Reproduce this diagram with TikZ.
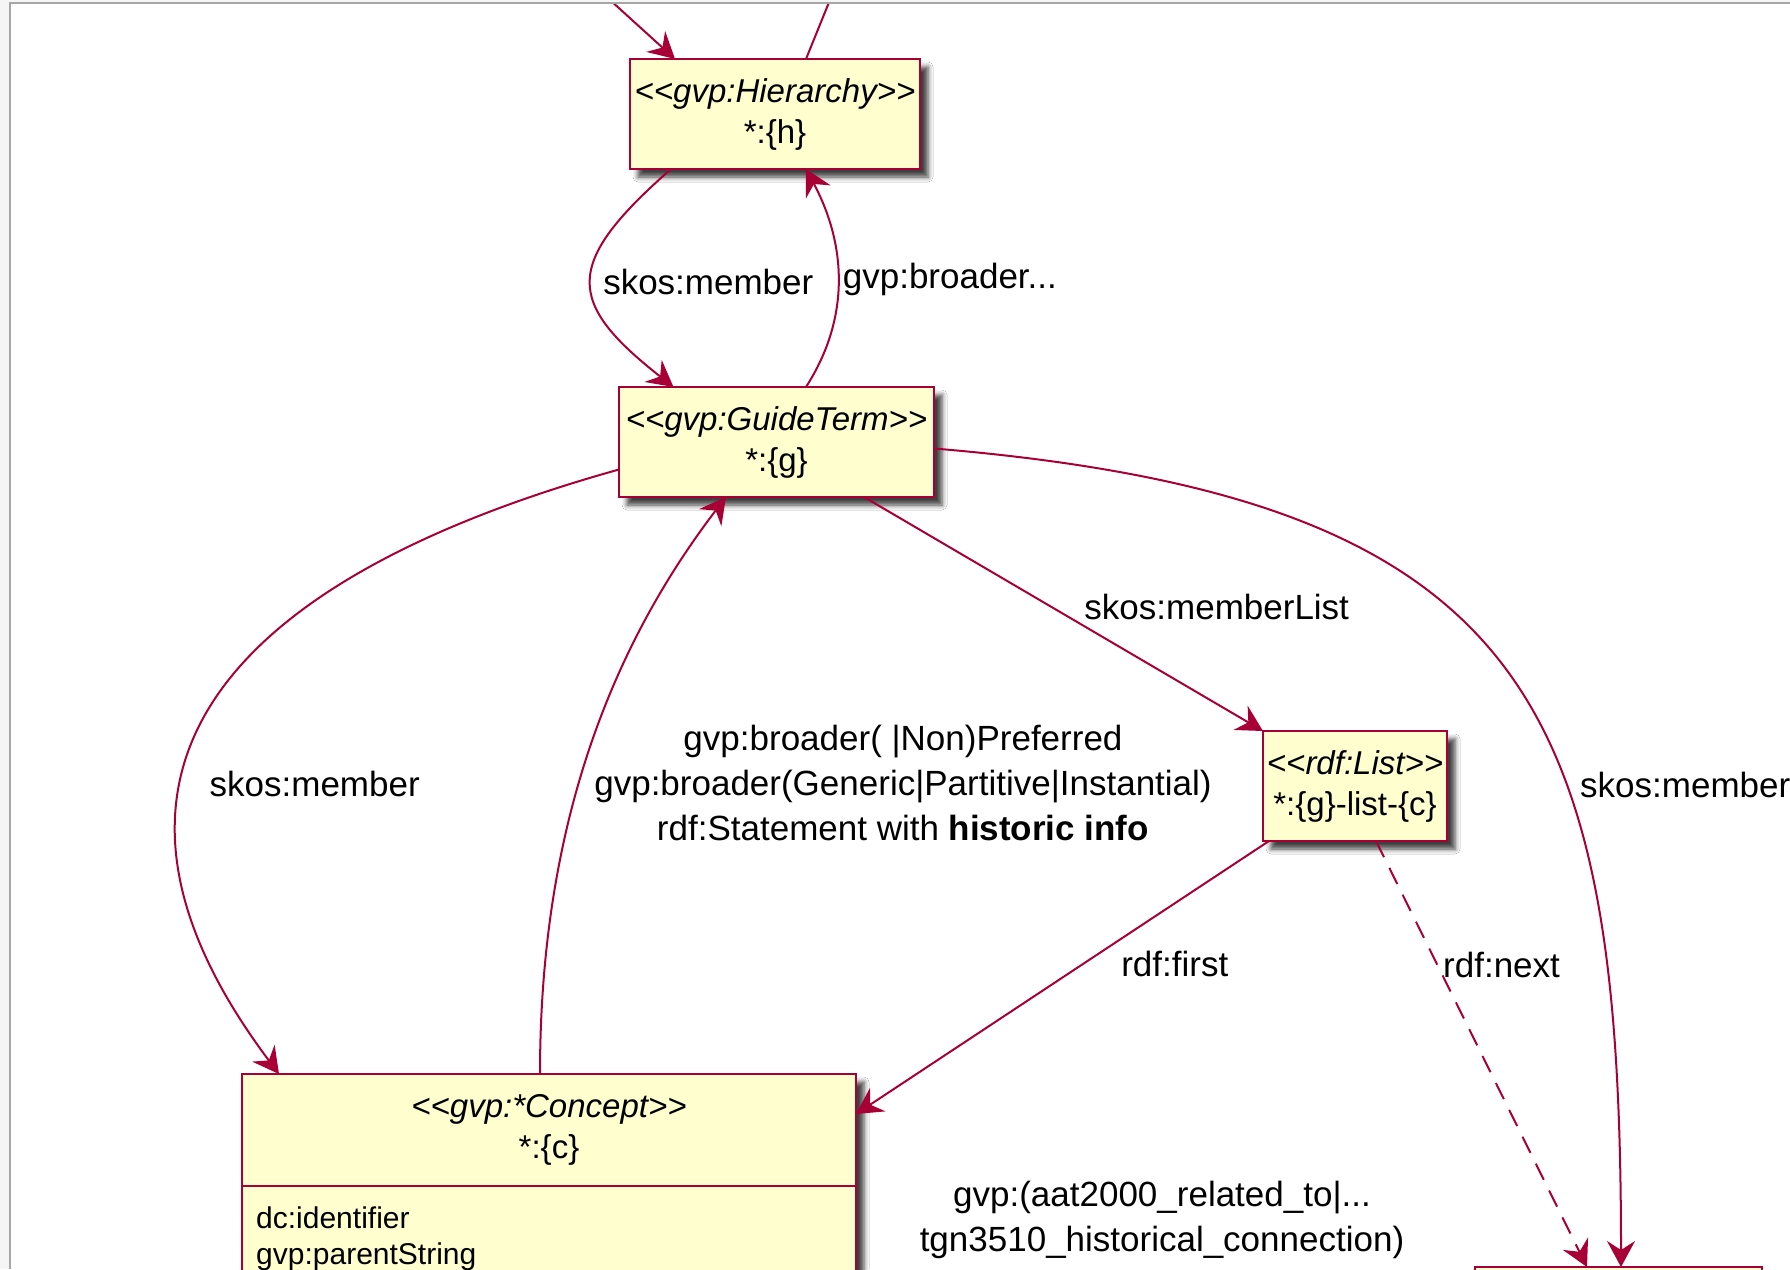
\documentclass[tikz,border=0pt]{standalone}
\usepackage{fontspec}
\newfontfamily\umlfont{Liberation Sans}
\usetikzlibrary{positioning, arrows.meta, calc, shadows.blur}

\definecolor{umlred}{HTML}{A80036}
\definecolor{umlfill}{HTML}{FEFECE}

\begin{document}
\begin{tikzpicture}[x=1pt, y=-1pt,
    box/.style={rectangle, draw=umlred, line width=2.6pt, fill=umlfill,
                minimum height=110pt, inner sep=0pt, outer sep=0pt, align=center,
                font=\umlfont\fontsize{33}{41}\selectfont},
    classbox/.style={box, blur shadow={shadow xshift=8pt, shadow yshift=-8pt,
                                       shadow blur radius=5pt, shadow opacity=75}},
    attr/.style={inner sep=0pt, align=left, font=\umlfont\fontsize{30}{36}\selectfont},
    lbl/.style={inner sep=0pt, font=\umlfont\fontsize{35}{45}\selectfont},
    arrow/.style={draw=umlred, line width=2pt, -{Stealth[length=26pt, width=28pt, inset=9pt]}},
    link/.style={draw=umlred, line width=2pt}
]
    \useasboundingbox (0,0) rectangle (1790,1269);

    % window backdrop
    \fill[gray!8] (0,0) rectangle (1790,1269);
    \fill[white] (11,4) rectangle (1790,1269);

    \begin{scope}
        \clip (11,4) rectangle (1790,1269);

        % === Classes ===
        \node[classbox, minimum width=290pt] (hier) at (775,114) {\textit{<<gvp:Hierarchy>>}\\*:\{h\}};
        \node[classbox, minimum width=315pt] (guide) at (776.5,442) {\textit{<<gvp:GuideTerm>>}\\*:\{g\}};
        \node[classbox, minimum width=184pt] (list) at (1355,786) {\textit{<<rdf:List>>}\\*:\{g\}-list-\{c\}};

        % concept: body with shadow, header compartment on top
        \node[classbox, minimum width=614pt, minimum height=290pt, anchor=north] (cbody) at (549,1074) {};
        \node[box, minimum width=614pt, minimum height=112pt, anchor=north] (concept) at (cbody.north) {\textit{<<gvp:*Concept>>}\\*:\{c\}};
        \node[attr, anchor=north west] (cattr) at ([xshift=14pt, yshift=-21pt]concept.south west) {dc:identifier\\gvp:parentString};

        \node[classbox, minimum width=287pt, minimum height=120pt, anchor=north] (tail) at (1618.5,1267) {};

        % === Edges ===
        \coordinate (hin) at (599,-10);
        \coordinate (hout) at (834,-10);
        \draw[arrow] (hin) -- ([xshift=-100pt]hier.north);
        \draw[link] ([xshift=31pt]hier.north) -- (hout);

        \draw[arrow] ([xshift=-104pt]hier.south) .. controls +(-108,95) and +(-108,-85) .. ([xshift=-103pt]guide.north)
            node[lbl, pos=0.5, anchor=west, xshift=11pt] (lmember1) {skos:member};
        \draw[arrow] ([xshift=29.5pt]guide.north) .. controls +(45,-70) and +(40,75) .. ([xshift=31pt]hier.south)
            node[lbl, pos=0.5, anchor=west, xshift=4pt] (lbroader) {gvp:broader...};

        \draw[arrow] ([yshift=-27.5pt]guide.west) .. controls +(-330,92) and +(-252,-336) .. ([xshift=37pt]concept.north west)
            node[lbl, pos=0.66, anchor=west, xshift=26pt] (lmember2) {skos:member};

        \draw[arrow] ([xshift=-9pt]concept.north) .. controls +(0,-220) and +(-130,170) .. ([xshift=-50.5pt]guide.south);
        \node[lbl, align=center] (lbroaderall) at (903,783)
            {gvp:broader( |Non)Preferred\\gvp:broader(Generic|Partitive|Instantial)\\rdf:Statement with \textbf{historic info}};

        \draw[arrow] ([xshift=87.5pt]guide.south) -- (list.north west)
            node[lbl, pos=0.55, anchor=west, yshift=19pt] (lmemberlist) {skos:memberList};

        \draw[arrow] ([yshift=-6.5pt]guide.east) .. controls +(600,50) and +(0,-560) .. ([xshift=2.5pt]tail.north);
        \node[lbl, anchor=west] (lmember3) at (1580,785) {skos:member};

        \draw[arrow] ([xshift=6pt]list.south west) -- ([yshift=16pt]concept.east)
            node[lbl, pos=0.36, anchor=west, yshift=-25pt] (lfirst) {rdf:first};
        \draw[arrow, dash pattern=on 18pt off 12pt] ([xshift=21pt]list.south) -- ([xshift=-31.5pt]tail.north)
            node[lbl, pos=0.29, anchor=west, xshift=5pt] (lnext) {rdf:next};

        \node[lbl, align=center] (lrelated) at (1162,1220)
            {gvp:(aat2000\_related\_to|...\\tgn3510\_historical\_connection)};
    \end{scope}

    % window border
    \draw[gray!70, line width=2pt] (10,1269) -- (10,3) -- (1790,3);
\end{tikzpicture}
\end{document}
